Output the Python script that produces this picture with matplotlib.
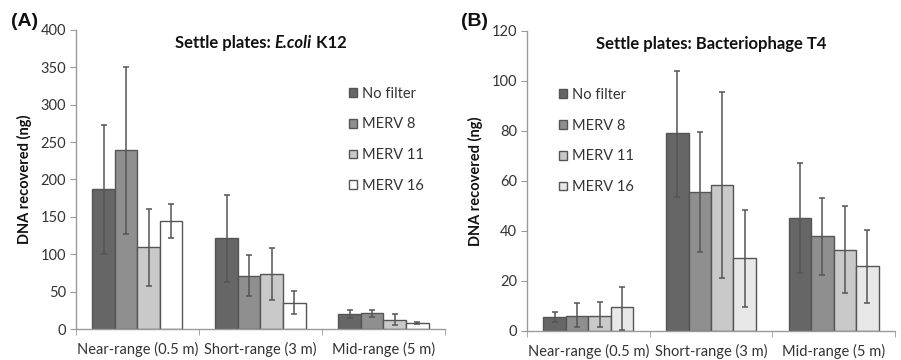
import matplotlib
matplotlib.use("Agg")
import matplotlib.pyplot as plt
import numpy as np

plt.rcParams['font.family'] = ['Lato', 'DejaVu Sans']

categories = ["Near-range (0.5 m)", "Short-range (3 m)", "Mid-range (5 m)"]
series = ["No filter", "MERV 8", "MERV 11", "MERV 16"]

# Panel A: E. coli K12 — mean, lower error end, upper error end (per series, per category)
ecoli_mean = [[187, 122, 20], [240, 71, 21], [110, 73, 12], [145, 35, 8]]
ecoli_low = [[101, 63, 15], [127, 44, 16], [58, 39, 5], [122, 20, 7]]
ecoli_high = [[273, 179, 25], [351, 99, 26], [161, 108, 20], [167, 51, 9]]

# Panel B: Bacteriophage T4
t4_mean = [[5.5, 79, 45], [6, 55.5, 38], [6, 58.5, 32.5], [9.5, 29, 26]]
t4_low = [[3.5, 53.5, 23], [1.5, 31.5, 22.5], [1.5, 21, 15], [0.5, 9.5, 11]]
t4_high = [[7.5, 104, 67], [11, 79.5, 53], [11.5, 95.5, 50], [17.5, 48.5, 40.5]]

yticks_a = [0, 50, 100, 150, 200, 250, 300, 350, 400]
yticks_b = [0, 20, 40, 60, 80, 100, 120]

colors_a = ["#666666", "#8f8f8f", "#c9c9c9", "#ffffff"]
colors_b = ["#666666", "#8f8f8f", "#c9c9c9", "#e8e8e8"]
edge = "#555555"
axis_c = "#9a9a9a"
text_c = "#333333"

fig = plt.figure(figsize=(9.01, 3.6), dpi=100)
axA = fig.add_axes([0.0843, 0.0861, 0.4096, 0.8306])
axB = fig.add_axes([0.5849, 0.0806, 0.4084, 0.8333])


def draw(ax, means, lows, highs, colors, yticks, legend_loc):
    x = np.arange(len(categories))
    w = 0.183
    offsets = (np.arange(len(series)) - 1.5) * w
    handles = []
    for i, s in enumerate(series):
        m = np.array(means[i], dtype=float)
        lo = np.array(lows[i], dtype=float)
        hi = np.array(highs[i], dtype=float)
        b = ax.bar(x + offsets[i], m, width=w, color=colors[i], edgecolor=edge,
                   linewidth=1.0, label=s, zorder=2)
        ax.errorbar(x + offsets[i], m, yerr=[m - lo, hi - m], fmt='none',
                    ecolor=edge, elinewidth=1.1, capsize=2.5, capthick=1.1, zorder=3)
        handles.append(b)
    ax.set_xlim(-0.5, 2.5)
    ax.set_ylim(yticks[0], yticks[-1])
    ax.set_yticks(yticks)
    ax.set_xticks(x)
    ax.set_xticklabels(categories, fontsize=10.5, color=text_c)
    ax.set_xticks([-0.5, 0.5, 1.5, 2.5], minor=True)
    ax.tick_params(axis='x', which='major', length=0, pad=9)
    ax.tick_params(axis='x', which='minor', length=4, color=axis_c, direction='out')
    ax.tick_params(axis='y', length=4, color=axis_c, labelsize=10.5, labelcolor=text_c, pad=3)
    for sp in ['top', 'right']:
        ax.spines[sp].set_visible(False)
    for sp in ['left', 'bottom']:
        ax.spines[sp].set_color(axis_c)
        ax.spines[sp].set_linewidth(1.0)
    ax.set_ylabel("DNA recovered (ng)", fontsize=10.5, fontweight='bold', color='#111111', labelpad=6)
    leg = ax.legend(handles=handles, loc='upper left', bbox_to_anchor=legend_loc,
                    frameon=False, fontsize=10.5, handlelength=0.55, handleheight=0.55,
                    labelspacing=1.15, handletextpad=0.35, borderaxespad=0)
    for t in leg.get_texts():
        t.set_color(text_c)
    return ax


draw(axA, ecoli_mean, ecoli_low, ecoli_high, colors_a, yticks_a, (0.725, 0.83))
draw(axB, t4_mean, t4_low, t4_high, colors_b, yticks_b, (0.07, 0.83))


def title_pieces(ax, pieces, y=0.957, size=12):
    renderer = fig.canvas.get_renderer()
    texts = []
    total = 0.0
    for s, style in pieces:
        t = ax.text(0, y, s, transform=ax.transAxes, ha='left', va='center',
                    fontsize=size, fontweight='bold', fontstyle=style, color='#111111')
        wpx = t.get_window_extent(renderer).width
        texts.append((t, wpx))
        total += wpx
    ax_bb = ax.get_window_extent(renderer)
    cur = ax_bb.x0 + ax_bb.width / 2 - total / 2
    for t, wpx in texts:
        t.set_x((cur - ax_bb.x0) / ax_bb.width)
        cur += wpx


title_pieces(axA, [("Settle plates: ", 'normal'), ("E.coli", 'italic'), (" K12", 'normal')])
title_pieces(axB, [("Settle plates: Bacteriophage T4", 'normal')])

fig.text(0.012, 0.94, "(A)", fontsize=14, fontweight='bold', ha='left', va='center',
         color='#111111', family=['Liberation Sans', 'DejaVu Sans'])
fig.text(0.512, 0.94, "(B)", fontsize=14, fontweight='bold', ha='left', va='center',
         color='#111111', family=['Liberation Sans', 'DejaVu Sans'])

fig.savefig("out.png", dpi=100)
